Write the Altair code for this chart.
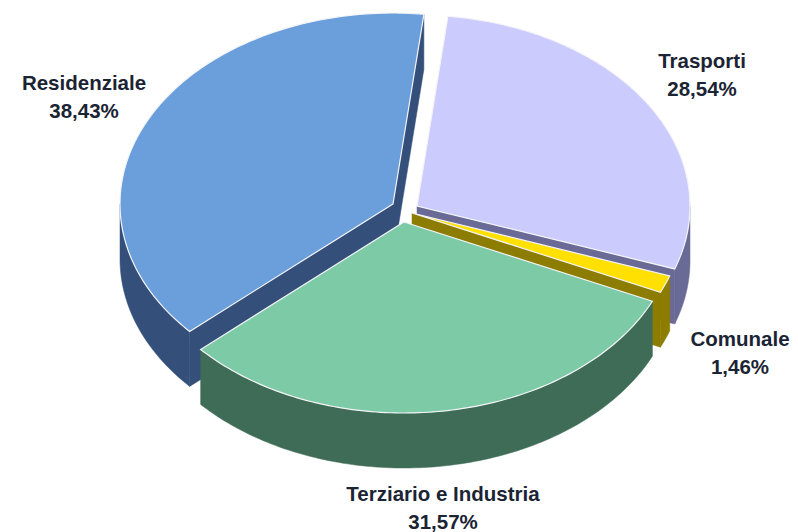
import math
import altair as alt

# values
names = ["Trasporti", "Comunale", "Terziario e Industria", "Residenziale"]
shares = [28.54, 1.46, 31.57, 38.43]
share_labels = ["28,54%", "1,46%", "31,57%", "38,43%"]

# look of the slices
top_colors = ["#CBCBFD", "#FFE000", "#7CCBA6", "#6A9FDB"]
wall_colors = ["#6A6A96", "#8C7C00", "#3F6C56", "#34507A"]
centers = [(417, 206), (412, 213), (404, 222), (393, 204)]
RX, RY, DEPTH = 273, 191, 55
START = 6.5
MARGIN = 8

label_pos = [(702, 62), (740, 340), (443, 495), (84, 84)]


def rim(c, a):
    r = math.radians(a)
    return (c[0] + RX * math.sin(r), c[1] - RY * math.cos(r))


def arc(c, a0, a1):
    n = max(2, int(abs(a1 - a0)) + 1)
    return [rim(c, a0 + (a1 - a0) * i / (n - 1)) for i in range(n)]


def feature(pts, fill, stroke, sw):
    ring = [[x - MARGIN, y - MARGIN] for x, y in pts]
    ring.append(ring[0])
    return {
        "type": "Feature",
        "geometry": {"type": "Polygon", "coordinates": [ring]},
        "properties": {"fill": fill, "stroke": stroke, "sw": sw},
    }


def down(pts):
    return [(x, y + DEPTH) for x, y in pts]


spans = []
a = START
for s in shares:
    b = a + s * 3.6
    spans.append((a, b))
    a = b

features = []
for i in [3, 0, 1, 2]:
    c = centers[i]
    a0, a1 = spans[i]
    wall = wall_colors[i]
    # cut faces that look towards the viewer
    cut_angles = {3: [a1, a0], 0: [a1], 1: [a1], 2: []}[i]
    for ang in cut_angles:
        edge = [c, rim(c, ang)]
        features.append(feature(edge + down(edge)[::-1], wall, wall, 0.5))
    # outer wall, front half of the ellipse only
    w0, w1 = max(a0, 90), min(a1, 270)
    if w1 > w0:
        top_edge = arc(c, w0, w1)
        features.append(feature(top_edge + down(top_edge)[::-1], wall, wall, 0.5))
    features.append(feature([c] + arc(c, a0, a1), top_colors[i], "#F4F4F8", 1.2))

projection = alt.Projection(type="identity", scale=1, translate=[0, 0])

pie = (
    alt.Chart(alt.Data(values=features))
    .mark_geoshape()
    .encode(
        fill=alt.Fill("properties.fill:N", scale=None),
        stroke=alt.Stroke("properties.stroke:N", scale=None),
        strokeWidth=alt.StrokeWidth("properties.sw:Q", scale=None),
    )
    .project(**projection.to_dict())
)

rows = [
    {"label": f"{n}\n{p}", "lon": x - MARGIN, "lat": y - MARGIN}
    for n, p, (x, y) in zip(names, share_labels, label_pos)
]
labels = (
    alt.Chart(alt.Data(values=rows))
    .mark_text(
        font="Liberation Sans",
        fontWeight="bold",
        fontSize=20.5,
        color="#1B2433",
        align="center",
        baseline="middle",
        lineBreak="\n",
        lineHeight=28,
    )
    .encode(longitude="lon:Q", latitude="lat:Q", text="label:N")
    .project(**projection.to_dict())
)

chart = (
    alt.layer(pie, labels)
    .properties(width=782, height=524, padding=0, background="white")
    .configure_view(stroke=None)
)
chart.save("out.html", embed_options={"renderer": "svg", "actions": False})
